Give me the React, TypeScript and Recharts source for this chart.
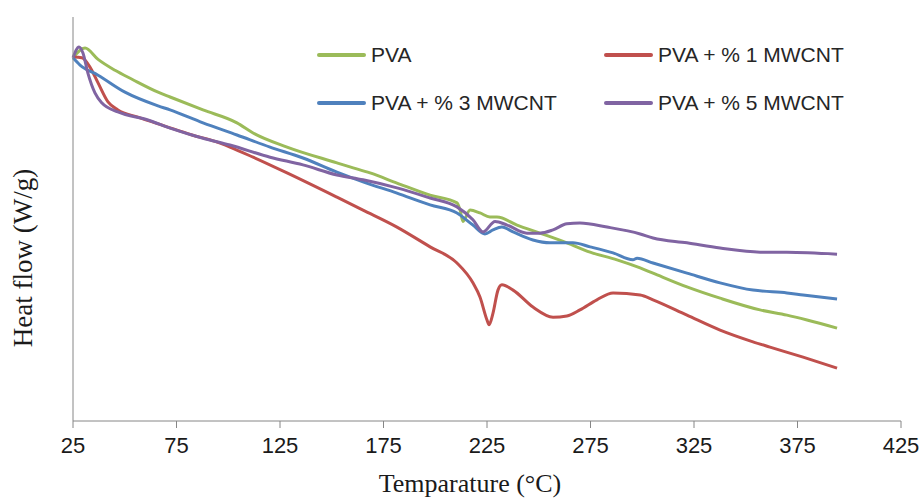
import React from 'react';
import { LineChart, Line, XAxis, YAxis, Label, Legend } from 'recharts';

// DSC curves (heat flow in arbitrary axis units, 0-10)
const pvaTemp = [25, 30.8, 37.1, 45.3, 53.5, 66.1, 71.9, 87.8, 104.2, 112, 128.4, 152.5, 158.8, 168.5, 181.5, 197.5, 210.5, 212, 213.4, 216.8, 221.6, 226.4, 229.8, 239.5, 250.6, 263.6, 274.8, 287.8, 299, 305.2, 321.6, 337.6, 356.9, 369.9, 379.6, 394.1];
const pvaFlow = [8.99, 9.23, 8.95, 8.68, 8.46, 8.14, 8.02, 7.7, 7.38, 7.13, 6.78, 6.39, 6.29, 6.14, 5.89, 5.59, 5.4, 5.22, 4.94, 5.22, 5.15, 5.05, 5.05, 4.85, 4.65, 4.41, 4.18, 3.99, 3.79, 3.66, 3.32, 3.04, 2.75, 2.62, 2.5, 2.3];

const mw1Temp = [25, 29.3, 33.2, 37.1, 41.9, 46.7, 56.4, 69.4, 82.5, 93.6, 100.8, 112, 128.4, 152.5, 165.1, 181.5, 197.5, 210.5, 218.2, 221.6, 225, 226, 227.9, 230.3, 232.2, 237.6, 247.2, 256.9, 263.6, 269.9, 278.1, 285.9, 299, 305.2, 321.6, 337.6, 353.5, 361.7, 377.7, 394.1];
const mw1Flow = [9.01, 8.99, 8.76, 8.37, 7.9, 7.7, 7.52, 7.3, 7.08, 6.92, 6.78, 6.53, 6.14, 5.54, 5.22, 4.8, 4.31, 3.91, 3.42, 3.07, 2.5, 2.38, 2.67, 3.24, 3.37, 3.24, 2.82, 2.57, 2.6, 2.75, 3.0, 3.17, 3.12, 3.0, 2.62, 2.25, 1.96, 1.83, 1.58, 1.31];

const mw3Temp = [25, 28.4, 37.1, 50.1, 66.1, 71.9, 87.8, 104.2, 120.2, 136.1, 152.5, 165.1, 181.5, 197.5, 210.5, 218.2, 224, 227.9, 232.2, 237.6, 247.2, 255.4, 266.5, 274.8, 285.9, 295.5, 297.5, 305.2, 321.6, 337.6, 353.5, 369.9, 377.7, 394.1];
const mw3Flow = [8.99, 8.81, 8.56, 8.14, 7.8, 7.7, 7.38, 7.08, 6.78, 6.51, 6.16, 5.92, 5.64, 5.35, 5.15, 4.85, 4.63, 4.73, 4.8, 4.68, 4.48, 4.41, 4.41, 4.31, 4.16, 3.99, 4.03, 3.91, 3.66, 3.42, 3.24, 3.17, 3.12, 3.02];

const mw5Temp = [25, 27.9, 29.8, 32.2, 35.6, 39, 46.7, 61.2, 71.9, 87.8, 100.8, 120.2, 136.1, 152.5, 165.1, 181.5, 197.5, 210.5, 218.2, 223.1, 228.9, 234.7, 244.3, 250.6, 256.9, 263.6, 269.9, 283, 299, 305.2, 321.6, 337.6, 356.9, 369.9, 394.1];
const mw5Flow = [8.99, 9.26, 9.11, 8.61, 8.12, 7.87, 7.65, 7.45, 7.25, 7.0, 6.83, 6.53, 6.34, 6.09, 5.97, 5.77, 5.52, 5.3, 4.98, 4.68, 4.94, 4.85, 4.65, 4.65, 4.73, 4.88, 4.9, 4.8, 4.63, 4.53, 4.41, 4.28, 4.18, 4.18, 4.13];

const xTicks = [25, 75, 125, 175, 225, 275, 325, 375, 425];
const yTicks = [0, 1, 2, 3, 4, 5, 6, 7, 8, 9, 10];

const zip = (t: number[], f: number[]) => t.map((temp, i) => ({ temp, flow: f[i] }));

const series = [
  { name: 'PVA', color: '#9BBB59', data: zip(pvaTemp, pvaFlow) },
  { name: 'PVA + % 1 MWCNT', color: '#C0504D', data: zip(mw1Temp, mw1Flow) },
  { name: 'PVA + % 3 MWCNT', color: '#4F81BD', data: zip(mw3Temp, mw3Flow) },
  { name: 'PVA + % 5 MWCNT', color: '#8064A2', data: zip(mw5Temp, mw5Flow) },
];

const axisColor = '#868686';
const serif = '"Liberation Serif", "Times New Roman", serif';

const LegendBox = () => (
  <div
    style={{
      display: 'grid',
      gridTemplateColumns: '287px 290px',
      rowGap: 24,
      fontFamily: '"Liberation Sans", Arial, sans-serif',
      fontSize: 21,
      color: '#262626',
    }}
  >
    {series.map((s) => (
      <div key={s.name} style={{ display: 'flex', alignItems: 'center', height: 24 }}>
        <span style={{ display: 'inline-block', width: 49, height: 4, borderRadius: 2, background: s.color, marginRight: 5 }} />
        <span>{s.name}</span>
      </div>
    ))}
  </div>
);

export default function App() {
  return (
    <div style={{ position: 'absolute', top: 0, left: 0, background: '#fff', width: 924, height: 499 }}>
      <LineChart
        width={924}
        height={499}
        margin={{ top: 17, right: 23, bottom: 48, left: 13 }}
        style={{ overflow: 'visible' }}
      >
        <XAxis
          type="number"
          dataKey="temp"
          domain={[25, 425]}
          ticks={xTicks}
          allowDuplicatedCategory={false}
          height={30}
          stroke={axisColor}
          tickSize={7}
          tickMargin={9}
          tick={{ fill: '#1a1a1a', fontSize: 22, fontFamily: '"Liberation Sans", Arial, sans-serif' }}
        >
          <Label
            content={() => (
              <text x={470} y={492} textAnchor="middle" fontFamily={serif} fontSize={26} fill="#1a1a1a">
                Temparature (°C)
              </text>
            )}
          />
        </XAxis>
        <YAxis
          type="number"
          dataKey="flow"
          domain={[0, 10]}
          ticks={yTicks}
          width={60}
          stroke={axisColor}
          tickSize={7}
          tick={false}
        >
          <Label
            content={() => (
              <text x={32} y={258} transform="rotate(-90 32 258)" textAnchor="middle" fontFamily={serif} fontSize={27} fill="#1a1a1a">
                Heat flow (W/g)
              </text>
            )}
          />
        </YAxis>
        <Legend
          layout="horizontal"
          verticalAlign="middle"
          align="center"
          wrapperStyle={{ top: 43, left: 317, width: 590 }}
          content={() => <LegendBox />}
        />
        {series.map((s) => (
          <Line
            key={s.name}
            data={s.data}
            dataKey="flow"
            name={s.name}
            type="monotone"
            stroke={s.color}
            strokeWidth={3}
            dot={false}
            isAnimationActive={false}
          />
        ))}
      </LineChart>
    </div>
  );
}
